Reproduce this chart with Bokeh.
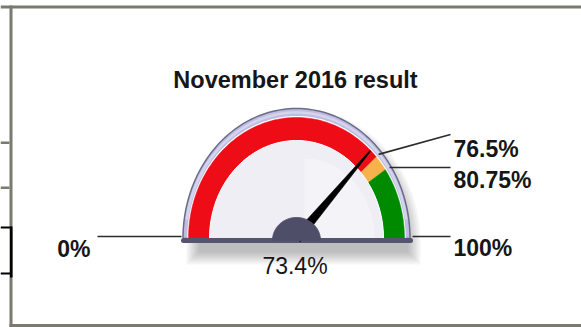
import numpy as np
from bokeh.plotting import figure
from bokeh.models import Range1d
from bokeh.embed import file_html
from bokeh.resources import INLINE
from bokeh.core.properties import value

# ---- data ----
title_text = "November 2016 result"
scale_min = 0
scale_max = 100
band_edges = [0, 76.5, 80.75, 100]
band_colors = ["#ee0c16", "#f8b24c", "#008a00"]
result_value = 73.4
marker_values = [76.5, 80.75]
marker_labels = ["76.5%", "80.75%"]
end_labels = ["0%", "100%"]
result_label = "73.4%"

W, H = 581, 327
FONT = "Liberation Sans"
INK = "#161616"
FRAME = "#7a7a6e"

p = figure(width=W, height=H, x_range=Range1d(0, W), y_range=Range1d(H, 0),
           output_backend="svg", toolbar_location=None, min_border=0)
p.axis.visible = False
p.grid.visible = False
p.outline_line_color = None
p.background_fill_color = "white"
p.border_fill_color = "white"

# ---- sheet cell borders around the chart ----
p.quad(left=[0, 9, 9, 0, 0], right=[W, 12, W, 9, 9],
       top=[5, 5, 323.5, 141, 186], bottom=[8, H, 327, 143.5, 188.5],
       fill_color=FRAME, line_color=None)
p.quad(left=[0, 0, 9.5], right=[11, 11, 12], top=[226, 272, 226],
       bottom=[228, 274, 277], fill_color="black", line_color=None)

# ---- gauge geometry (pixel space, elliptical dial) ----
CX, CY = 296, 238


def ang(v):
    return np.pi * (1 - (v - scale_min) / (scale_max - scale_min))


def arc(rx, ry, a0, a1, n=120, cx=CX, cy=CY):
    t = np.linspace(a0, a1, n)
    return cx + rx * np.cos(t), cy - ry * np.sin(t)


def ring(rxo, ryo, rxi, ryi, a0, a1):
    xo, yo = arc(rxo, ryo, a0, a1)
    xi, yi = arc(rxi, ryi, a1, a0)
    return list(np.concatenate([xo, xi])), list(np.concatenate([yo, yi]))


# soft drop shadow
for i in range(7):
    sx, sy = arc(117 - i * 2, 132 - i * 2, 0, np.pi, cx=CX + 7, cy=CY + 4)
    xs = list(sx) + [CX + 7 - (117 - i * 2), CX + 7 + (117 - i * 2)]
    ys = list(sy) + [CY + 26 - i * 2, CY + 26 - i * 2]
    p.patch(xs, ys, fill_color="black", fill_alpha=0.04, line_color=None)

# bezel
bx, by = arc(113.5, 130, 0, np.pi)
p.patch(list(bx), list(by), fill_color="#bdbde0", line_color="#6c6c8a", line_width=1.5)
hx, hy = arc(111, 126, 0.15, np.pi - 0.15)
p.line(list(hx), list(hy), line_color="#dadaf0", line_width=2.5, line_alpha=0.8)
wx, wy = arc(109.2, 122.5, 0, np.pi)
p.patch(list(wx), list(wy), fill_color="white", line_color=None)

# colour bands
for lo, hi, col in zip(band_edges[:-1], band_edges[1:], band_colors):
    xs, ys = ring(108, 121, 87, 98, ang(hi), ang(lo))
    p.patch(xs, ys, fill_color=col, line_color=col, line_width=0.5)

# dial face
fx, fy = arc(87, 98, 0, np.pi)
p.patch(list(fx), list(fy), fill_color="#eeeef4", line_color="white", line_width=1)
gx, gy = arc(70, 80, 0, np.pi / 2, cx=CX + 8)
p.patch(list(gx) + [CX + 8], list(gy) + [CY], fill_color="white", fill_alpha=0.35, line_color=None)

# base bar
p.line([CX - 113, CX + 114], [CY + 2, CY + 2], line_width=5, line_color="#55556f", line_cap="round")

# needle
a = ang(result_value)
tip = np.array([CX + 110 * np.cos(a), CY - 118 * np.sin(a)])
piv = np.array([CX, CY])
d = (tip - piv) / np.linalg.norm(tip - piv)
nrm = np.array([-d[1], d[0]])
pts = [piv + nrm * 5, tip + nrm * 0.6, tip - nrm * 0.6, piv - nrm * 5]
p.patch([q[0] for q in pts], [q[1] for q in pts], fill_color="black", line_color="black", line_width=0.5)

# hub
ux, uy = arc(24, 23, 0, np.pi, cy=CY + 2)
p.patch(list(ux), list(uy), fill_color="#4e4e68", line_color="#4e4e68")

# leader lines
LEAD = "#2c2c2c"
p.line([97, CX - 115], [236, 236], line_color=LEAD, line_width=1.6)
p.line([CX + 116, 450], [236, 236], line_color=LEAD, line_width=1.6)
m0 = ang(marker_values[0])
p.line([CX + 111 * np.cos(m0), 450], [CY - 125 * np.sin(m0), 134], line_color=LEAD, line_width=1.6)
m1 = ang(marker_values[1])
p.line([CX + 113 * np.cos(m1), 450], [167, 167], line_color=LEAD, line_width=1.6)

# texts
p.text(x=[295], y=[79], text=[title_text], text_font=value(FONT), text_font_size="23.5px",
       text_font_style="bold", text_color=INK, text_align="center", text_baseline="alphabetic")
p.text(x=[90], y=[248], text=[end_labels[0]], text_font=value(FONT), text_font_size="23px",
       text_font_style="bold", text_color=INK, text_align="right", text_baseline="alphabetic")
p.text(x=[453, 453, 453], y=[148, 179, 247], text=marker_labels + [end_labels[1]],
       text_font=value(FONT), text_font_size="23px",
       text_font_style="bold", text_color=INK, text_align="left", text_baseline="alphabetic")
p.text(x=[294.5], y=[265.5], text=[result_label], text_font=value(FONT), text_font_size="23px",
       text_color=INK, text_align="center", text_baseline="alphabetic")

open("out.html", "w").write(file_html(p, INLINE))
